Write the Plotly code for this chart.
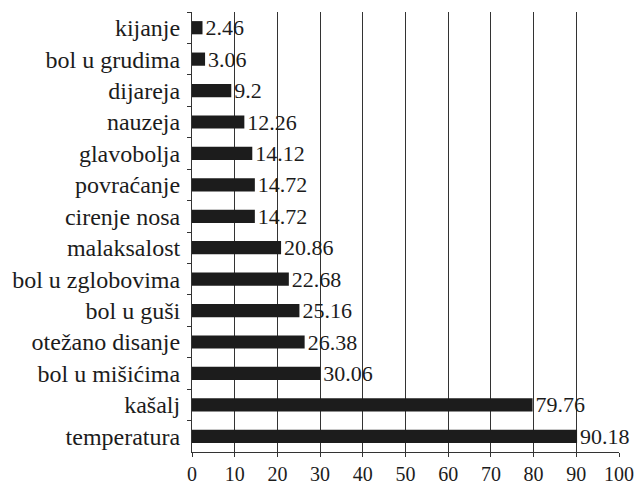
import plotly.graph_objects as go

categories = ["kijanje", "bol u grudima", "dijareja", "nauzeja", "glavobolja",
              "povraćanje", "cirenje nosa", "malaksalost", "bol u zglobovima",
              "bol u guši", "otežano disanje", "bol u mišićima", "kašalj", "temperatura"]
values = [2.46, 3.06, 9.2, 12.26, 14.12, 14.72, 14.72, 20.86, 22.68, 25.16, 26.38, 30.06, 79.76, 90.18]
value_labels = ["2.46", "3.06", "9.2", "12.26", "14.12", "14.72", "14.72", "20.86", "22.68",
                "25.16", "26.38", "30.06", "79.76", "90.18"]
x_ticks = [0, 10, 20, 30, 40, 50, 60, 70, 80, 90, 100]

font_family = "'Liberation Serif', 'Times New Roman', Times, 'DejaVu Serif', serif"

fig = go.Figure(go.Bar(
    x=values, y=categories, orientation="h",
    marker=dict(color="#1c1c1c", line=dict(width=0)),
    width=0.42,
    text=value_labels, textposition="outside", constraintext="none",
    textfont=dict(family=font_family, size=22, color="#1c1c1c"),
    cliponaxis=False,
))

fig.update_layout(
    width=639, height=488,
    margin=dict(l=192, r=20, t=12, b=36),
    paper_bgcolor="white", plot_bgcolor="white",
    font=dict(family=font_family, size=22, color="#1c1c1c"),
    showlegend=False,
    xaxis=dict(
        range=[0, 100], tickvals=x_ticks, ticktext=[str(t) for t in x_ticks],
        showgrid=True, gridcolor="#333333", gridwidth=1,
        showline=True, linecolor="#333333", linewidth=1,
        ticks="outside", ticklen=4, tickcolor="#333333",
        zeroline=False, fixedrange=True, automargin=False,
        ticklabelstandoff=0,
        tickfont=dict(family=font_family, size=20, color="#1c1c1c"),
    ),
    yaxis=dict(
        categoryorder="array", categoryarray=categories, autorange="reversed",
        showline=True, linecolor="#333333", linewidth=1,
        ticks="outside", ticklen=4, tickcolor="#333333", tickson="boundaries",
        showgrid=False, ticklabelstandoff=6, automargin=False, fixedrange=True,
        tickfont=dict(family=font_family, size=24, color="#1c1c1c"),
    ),
)

fig.write_html("out.html", config={"displayModeBar": False},
               post_script="document.body.style.margin='0';")
